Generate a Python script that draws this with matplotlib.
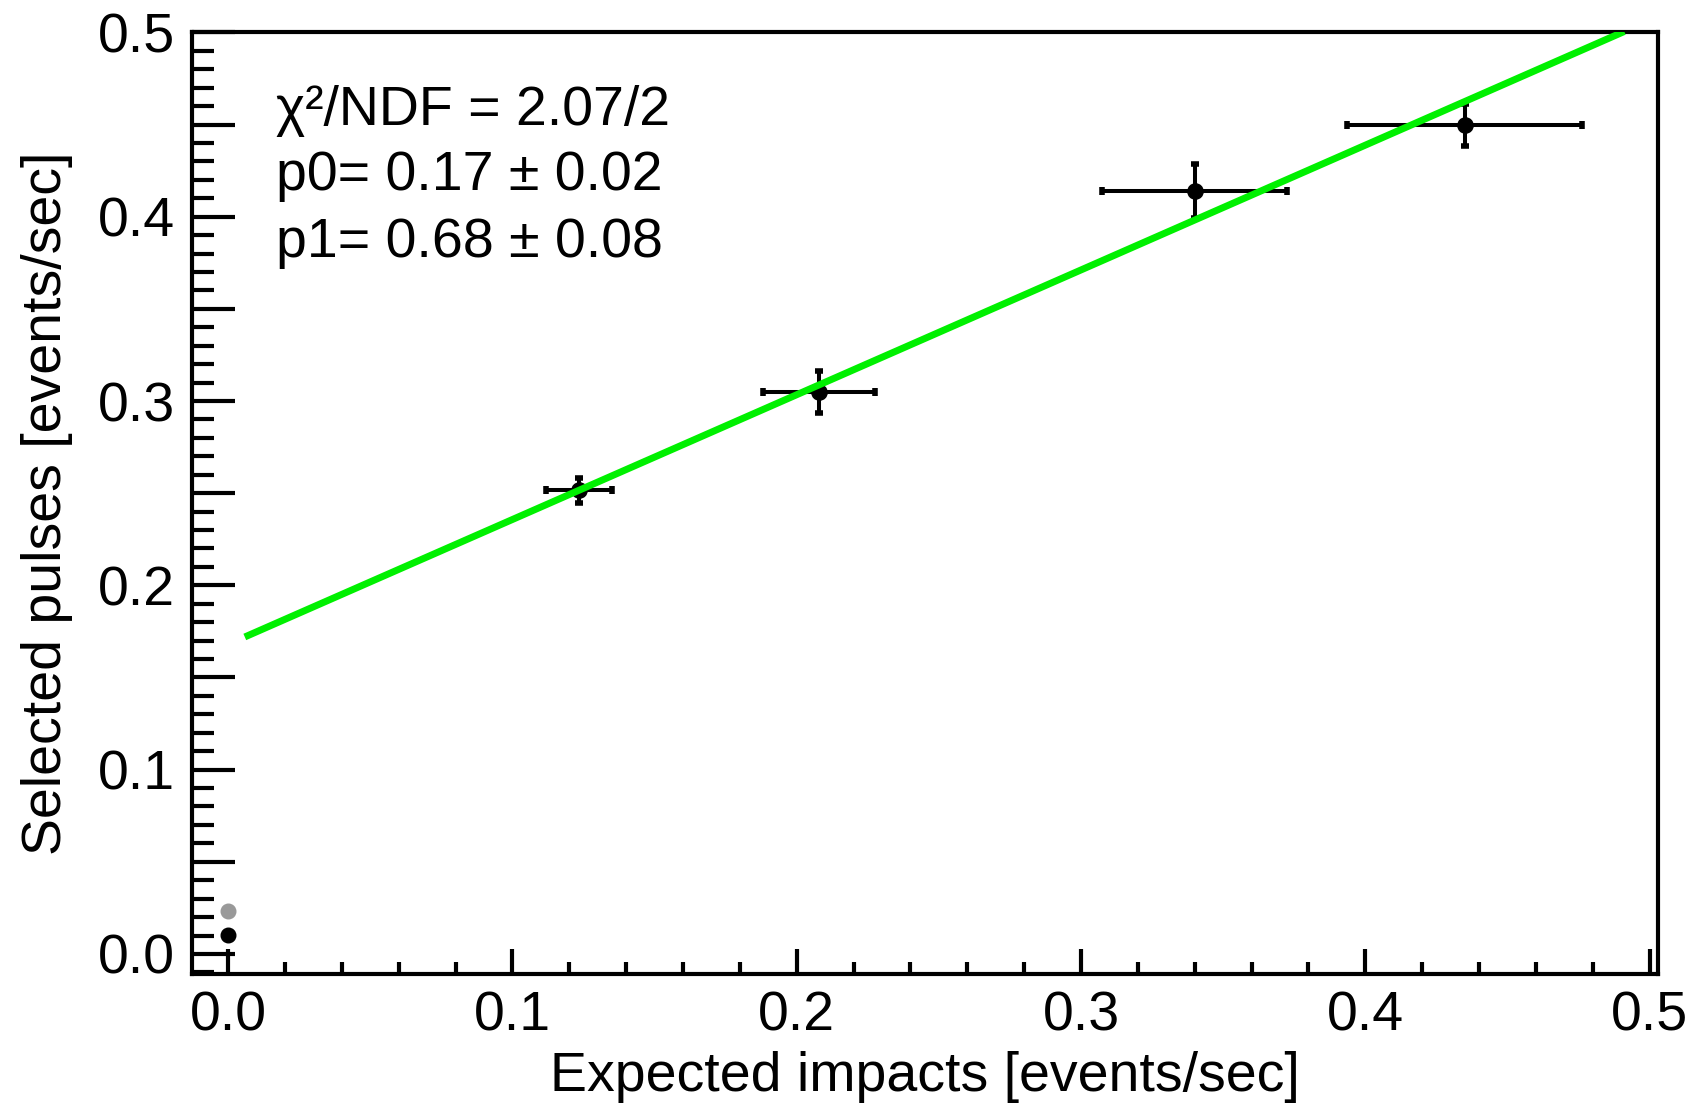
import numpy as np
import matplotlib
matplotlib.use('Agg')
import matplotlib.pyplot as plt
from matplotlib.ticker import MultipleLocator

plt.rcParams['font.family'] = ['Liberation Sans', 'DejaVu Sans']

# rate measurements with fit
expected = [0.1235, 0.208, 0.340, 0.435]
expected_err = [0.0117, 0.0197, 0.0326, 0.0413]
selected = [0.2515, 0.3047, 0.414, 0.450]
selected_err = [0.0067, 0.0114, 0.0146, 0.0114]

# background points at zero expected rate
bkg_x = [0.0, 0.0]
bkg_y = [0.0103, 0.0234]
bkg_col = ['black', '#999999']

# linear fit y = p0 + p1*x
p0 = 0.168
p1 = 0.677
fit_range = [0.007, 0.49]

fs = 40
fig = plt.figure(figsize=(16.9, 11.17), dpi=100)
ax = fig.add_axes([0.1136, 0.128, 0.8675, 0.843])

xf = np.array(fit_range)
ax.plot(xf, p0 + p1 * xf, color='#00f000', lw=5, zorder=3)

ax.errorbar(expected, selected, xerr=expected_err, yerr=selected_err,
            fmt='o', color='black', ms=11, elinewidth=2.9,
            capsize=3, capthick=4, zorder=2)
for x, y, c in zip(bkg_x, bkg_y, bkg_col):
    ax.plot(x, y, 'o', color=c, ms=10.5, zorder=4)

ax.set_xlim(-0.0127, 0.503)
ax.set_ylim(-0.0109, 0.5)

ax.xaxis.set_major_locator(MultipleLocator(0.1))
ax.xaxis.set_minor_locator(MultipleLocator(0.02))
ax.yaxis.set_major_locator(MultipleLocator(0.05))
ax.yaxis.set_minor_locator(MultipleLocator(0.01))
ax.yaxis.set_major_formatter(plt.FuncFormatter(
    lambda v, p: ('%.1f' % v) if abs(round(v * 10) - v * 10) < 1e-6 else ''))
ax.xaxis.set_major_formatter(plt.FuncFormatter(lambda v, p: '%.1f' % v))

ax.tick_params(axis='x', which='major', direction='in', length=18, width=3,
               labelsize=fs, pad=12, top=False)
ax.tick_params(axis='x', which='minor', direction='in', length=9, width=3, top=False)
ax.tick_params(axis='y', which='major', direction='in', length=31, width=3,
               labelsize=fs, pad=12, right=False)
ax.tick_params(axis='y', which='minor', direction='in', length=16, width=3, right=False)
for s in ax.spines.values():
    s.set_linewidth(3)

ax.set_xlabel('Expected impacts [events/sec]', fontsize=fs, labelpad=6)
ax.set_ylabel('Selected pulses [events/sec]', fontsize=fs, labelpad=18)

ax.text(0.057, 0.917, 'χ²/NDF = 2.07/2', transform=ax.transAxes,
        fontsize=fs, va='center', ha='left')
ax.text(0.057, 0.848, 'p0= 0.17 ± 0.02', transform=ax.transAxes,
        fontsize=fs, va='center', ha='left')
ax.text(0.057, 0.776, 'p1= 0.68 ± 0.08', transform=ax.transAxes,
        fontsize=fs, va='center', ha='left')

fig.savefig('out.png', dpi=100)
